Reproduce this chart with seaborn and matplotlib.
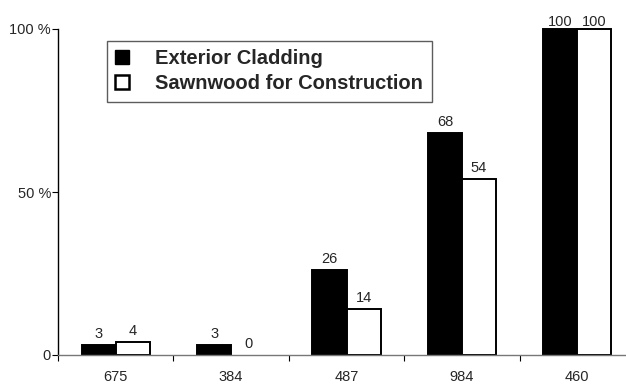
import matplotlib
matplotlib.use("Agg")
import matplotlib.pyplot as plt
import seaborn as sns
import pandas as pd
from matplotlib.patches import Patch

# Share of each product group (in %) for five sample sizes
categories = ["675", "384", "487", "984", "460"]
exterior_cladding = [3, 3, 26, 68, 100]
sawnwood_construction = [4, 0, 14, 54, 100]
series_names = ["Exterior Cladding", "Sawnwood for Construction"]
ytick_values = [0, 50, 100]
ytick_labels = ["0", "50 %", "100 %"]

df = pd.DataFrame({
    "category": categories * 2,
    "value": exterior_cladding + sawnwood_construction,
    "series": [series_names[0]] * len(categories) + [series_names[1]] * len(categories),
})

sns.set_style("ticks")
plt.rcParams["font.family"] = ["Liberation Sans", "DejaVu Sans"]

W, H = 626, 387
fig = plt.figure(figsize=(W / 100, H / 100), dpi=100)
ax = fig.add_axes([58 / W, 1 - 355 / H, 577 / W, 326 / H])

sns.barplot(
    data=df, x="category", y="value", hue="series",
    order=categories, hue_order=series_names,
    palette=["black", "white"], saturation=1,
    edgecolor="black", linewidth=1.4, width=0.59,
    legend=False, ax=ax,
)

ax.set_xlim(-0.5, len(categories) - 0.5)
ax.set_ylim(0, 100)

# value labels above the bars (labels at the top edge sit closer to the bar)
for cont, vals in zip(ax.containers, [exterior_cladding, sawnwood_construction]):
    for patch, v in zip(cont, vals):
        patch.set_clip_on(False)
        if v == 0:
            patch.set_edgecolor("none")
    texts = ax.bar_label(cont, labels=[str(v) for v in vals], padding=3.2,
                         fontsize=10.5, clip_on=False)
    for t, v in zip(texts, vals):
        if v >= 100:
            t.xyann = (t.xyann[0], 0.3)

# axes styling
ax.set_xlabel("")
ax.set_ylabel("")
ax.spines["top"].set_visible(False)
ax.spines["right"].set_visible(False)
ax.spines["left"].set_color("black")
ax.spines["left"].set_linewidth(1.0)
ax.spines["bottom"].set_color("#777777")
ax.spines["bottom"].set_linewidth(1.0)

ax.set_yticks(ytick_values)
ax.set_yticklabels(ytick_labels)
ax.tick_params(axis="y", length=4, width=0.8, pad=1, labelsize=10.5, color="black")

n = len(categories)
ax.set_xticks([i - 0.5 for i in range(n)])
ax.set_xticklabels([])
ax.set_xticks(list(range(n)), minor=True)
ax.set_xticklabels(categories, minor=True)
ax.tick_params(axis="x", which="major", length=4, width=0.8, color="black")
ax.tick_params(axis="x", which="minor", length=0, pad=11, labelsize=10.5)

handles = [
    Patch(facecolor="black", edgecolor="black", linewidth=1.0),
    Patch(facecolor="white", edgecolor="black", linewidth=1.8),
]
leg = fig.legend(
    handles, series_names,
    loc="upper left", bbox_to_anchor=(107 / W, 1 - 41 / H),
    frameon=True, fancybox=False, shadow=False,
    prop={"weight": "bold", "size": 14.5},
    handlelength=0.68, handleheight=0.68, handletextpad=1.3,
    borderpad=0.42, labelspacing=0.28, borderaxespad=0,
)
leg.get_frame().set_edgecolor("#333333")
leg.get_frame().set_linewidth(1.0)

fig.savefig("out.png", dpi=100)
